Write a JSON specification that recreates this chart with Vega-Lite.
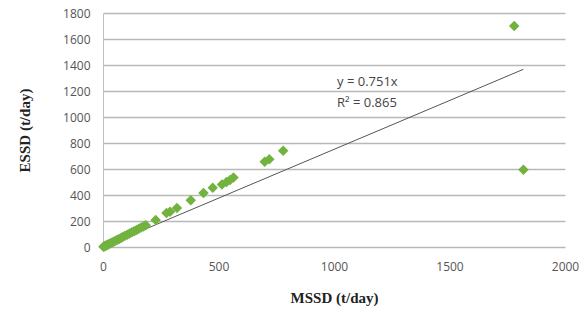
{
  "$schema": "https://vega.github.io/schema/vega-lite/v6.json",
  "autosize": "none",
  "width": 462,
  "height": 234,
  "padding": {"left": 103, "top": 13, "right": 23, "bottom": 79},
  "background": "white",
  "config": {
    "view": {"stroke": null}
  },
  "datasets": {
    "pts": [
      {"mssd": 2, "essd": 2}, {"mssd": 5, "essd": 4}, {"mssd": 8, "essd": 7}, {"mssd": 12, "essd": 10},
      {"mssd": 15, "essd": 13}, {"mssd": 20, "essd": 17}, {"mssd": 25, "essd": 22}, {"mssd": 30, "essd": 26},
      {"mssd": 35, "essd": 31}, {"mssd": 40, "essd": 35}, {"mssd": 48, "essd": 42}, {"mssd": 55, "essd": 49},
      {"mssd": 62, "essd": 55}, {"mssd": 70, "essd": 62}, {"mssd": 78, "essd": 70}, {"mssd": 85, "essd": 77},
      {"mssd": 95, "essd": 86}, {"mssd": 105, "essd": 95}, {"mssd": 115, "essd": 104}, {"mssd": 125, "essd": 113},
      {"mssd": 135, "essd": 122}, {"mssd": 145, "essd": 131}, {"mssd": 155, "essd": 140}, {"mssd": 165, "essd": 150},
      {"mssd": 175, "essd": 158}, {"mssd": 185, "essd": 168}, {"mssd": 228, "essd": 208}, {"mssd": 275, "essd": 262},
      {"mssd": 290, "essd": 272}, {"mssd": 320, "essd": 300}, {"mssd": 380, "essd": 360}, {"mssd": 435, "essd": 415},
      {"mssd": 475, "essd": 455}, {"mssd": 515, "essd": 480}, {"mssd": 535, "essd": 500}, {"mssd": 550, "essd": 515},
      {"mssd": 565, "essd": 535}, {"mssd": 700, "essd": 655}, {"mssd": 720, "essd": 675}, {"mssd": 780, "essd": 740},
      {"mssd": 1780, "essd": 1700}, {"mssd": 1820, "essd": 595}
    ],
    "trend": [{"mssd": 0, "essd": 0}, {"mssd": 1820, "essd": 1367}],
    "labels": [
      {"mssd": 1013, "essd": 1269, "t": "y = 0.751x"},
      {"mssd": 1013, "essd": 1108, "t": "R² = 0.865"}
    ]
  },
  "encoding": {
    "x": {
      "field": "mssd", "type": "quantitative",
      "scale": {"domain": [0, 2000], "nice": false},
      "axis": {
        "values": [0, 500, 1000, 1500, 2000], "format": "d", "grid": false, "ticks": false, "domain": false,
        "labelFlush": false, "labelOverlap": false,
        "labelFont": "Open Sans", "labelFontSize": 12, "labelColor": "#555555", "labelPadding": 14,
        "title": "MSSD (t/day)", "titleFont": "Liberation Serif", "titleFontSize": 15, "titleFontWeight": "bold",
        "titleColor": "#222222", "titlePadding": 18
      }
    },
    "y": {
      "field": "essd", "type": "quantitative",
      "scale": {"domain": [0, 1800], "nice": false},
      "axis": {
        "values": [0, 200, 400, 600, 800, 1000, 1200, 1400, 1600, 1800], "format": "d",
        "grid": true, "gridColor": "#b8b8b8", "gridWidth": 1.5, "gridOpacity": 1,
        "labelOverlap": false, "labelFlush": false,
        "ticks": false, "domain": true, "domainColor": "#bfbfbf",
        "labelFont": "Open Sans", "labelFontSize": 12, "labelColor": "#555555", "labelPadding": 13,
        "title": "ESSD (t/day)", "titleFont": "Liberation Serif", "titleFontSize": 15, "titleFontWeight": "bold",
        "titleColor": "#222222", "titlePadding": 30
      }
    }
  },
  "layer": [
    {
      "data": {"name": "trend"},
      "mark": {"type": "line", "color": "#555555", "strokeWidth": 1}
    },
    {
      "data": {"name": "pts"},
      "mark": {"type": "point", "shape": "diamond", "filled": true, "size": 110, "color": "#72b33f", "opacity": 1}
    },
    {
      "data": {"name": "labels"},
      "mark": {"type": "text", "align": "left", "baseline": "middle", "font": "Open Sans", "fontSize": 13, "color": "#444444"},
      "encoding": {
        "text": {"field": "t"}
      }
    }
  ]
}
